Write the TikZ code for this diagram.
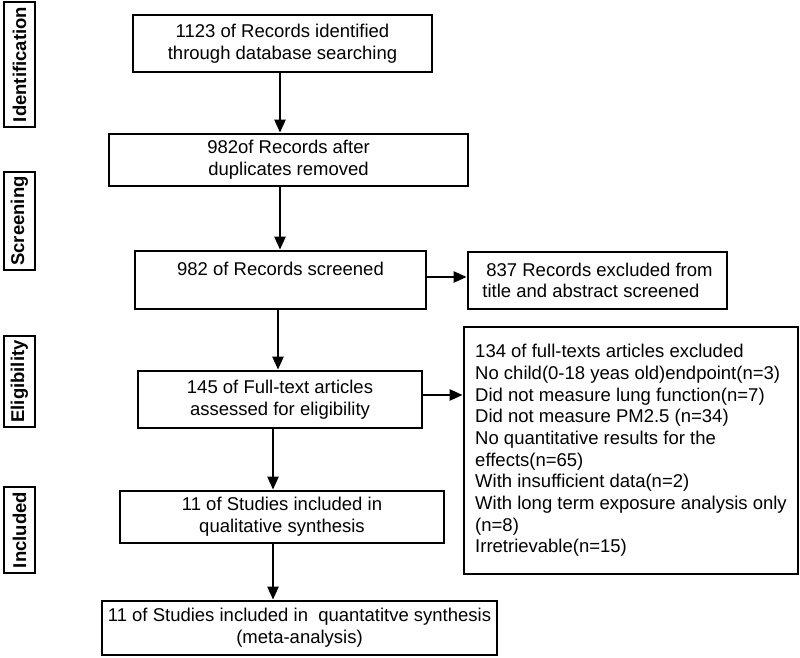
\documentclass[tikz,border=0pt]{standalone}
\usepackage{fontspec}
\setmainfont{Liberation Sans}
\usepackage{tikz}
\usetikzlibrary{arrows.meta}
\tikzset{
    flow-box/.style = {draw=black, fill=white, line width=2.7pt, rectangle, inner sep=4pt, align=center, font=\fontsize{18.5}{21.7}\selectfont},
    side-box/.style = {draw=black, line width=2.6pt, rectangle, rotate=90, inner sep=2pt, minimum height=31pt, font=\fontsize{18.5}{21.7}\selectfont\bfseries},
    flow-arrow/.style = {line width=2.4pt, -{Triangle[length=13pt,width=11pt]}},
}

\begin{document}
\begin{tikzpicture}[x=1pt, y=-1pt]
\useasboundingbox (0,0) rectangle (800,658);
% stage labels on the left
\node [side-box, minimum width=125pt] (ident) at (19.5,64.5) {Identification};
\node [side-box, minimum width=98pt] (screen) at (19.5,221) {Screening};
\node [side-box, minimum width=91pt] (elig) at (19.5,381.5) {Eligibility};
\node [side-box, minimum width=86pt] (incl) at (19.5,530) {Included};
% main column
\node [flow-box, minimum width=299pt, minimum height=57pt] (records) at (282.5,43.5) {1123 of Records identified\\through database searching};
\node [flow-box, minimum width=359pt, minimum height=52pt] (nodup) at (288.5,160) {982of Records after\\duplicates removed};
\node [flow-box, minimum width=291pt, minimum height=58pt] (screened) at (280.5,280) {982 of Records screened\\\mbox{}};
\node [flow-box, minimum width=284pt, minimum height=57pt] (fulltext) at (280,399.5) {145 of Full-text articles\\assessed for eligibility};
\node [flow-box, minimum width=324pt, minimum height=52pt] (qual) at (282,517) {11 of Studies included in\\qualitative synthesis};
\node [flow-box, minimum width=395pt, minimum height=54pt] (quant) at (299.5,628) {11 of Studies included in~ quantatitve synthesis\\(meta-analysis)};
% exclusions
\node [flow-box, align=left, minimum width=259pt, minimum height=57pt] (excl) at (597.5,280.5) {\hspace{4pt}837 Records excluded from\\title and abstract screened};
\node [flow-box, align=left, minimum width=334pt, minimum height=247pt] (exclft) at (631,450.5) {134 of full-texts articles excluded\\
    No child(0-18 yeas old)endpoint(n=3)\\
    Did not measure lung function(n=7)\\
    Did not measure PM2.5 (n=34)\\
    No quantitative results for the\\
    effects(n=65)\\
    With insufficient data(n=2)\\
    With long term exposure analysis only\\
    (n=8)\\
    Irretrievable(n=15)};
% arrows
\draw [flow-arrow] ([xshift=-2.5pt]records.south) -- ([xshift=-2.5pt]records.south |- nodup.north);
\draw [flow-arrow] ([xshift=-8.5pt]nodup.south) -- ([xshift=-8.5pt]nodup.south |- screened.north);
\draw [flow-arrow] ([xshift=-2.5pt]screened.south) -- ([xshift=-2.5pt]screened.south |- fulltext.north);
\draw [flow-arrow] ([xshift=-7pt]fulltext.south) -- ([xshift=-7pt]fulltext.south |- qual.north);
\draw [flow-arrow] ([xshift=-9pt]qual.south) -- ([xshift=-9pt]qual.south |- quant.north);
\draw [flow-arrow] ([yshift=3pt]screened.east) -- ([yshift=3pt]screened.east -| excl.west);
\draw [flow-arrow] ([yshift=4.5pt]fulltext.east) -- ([yshift=4.5pt]fulltext.east -| exclft.west);
\end{tikzpicture}
\end{document}
